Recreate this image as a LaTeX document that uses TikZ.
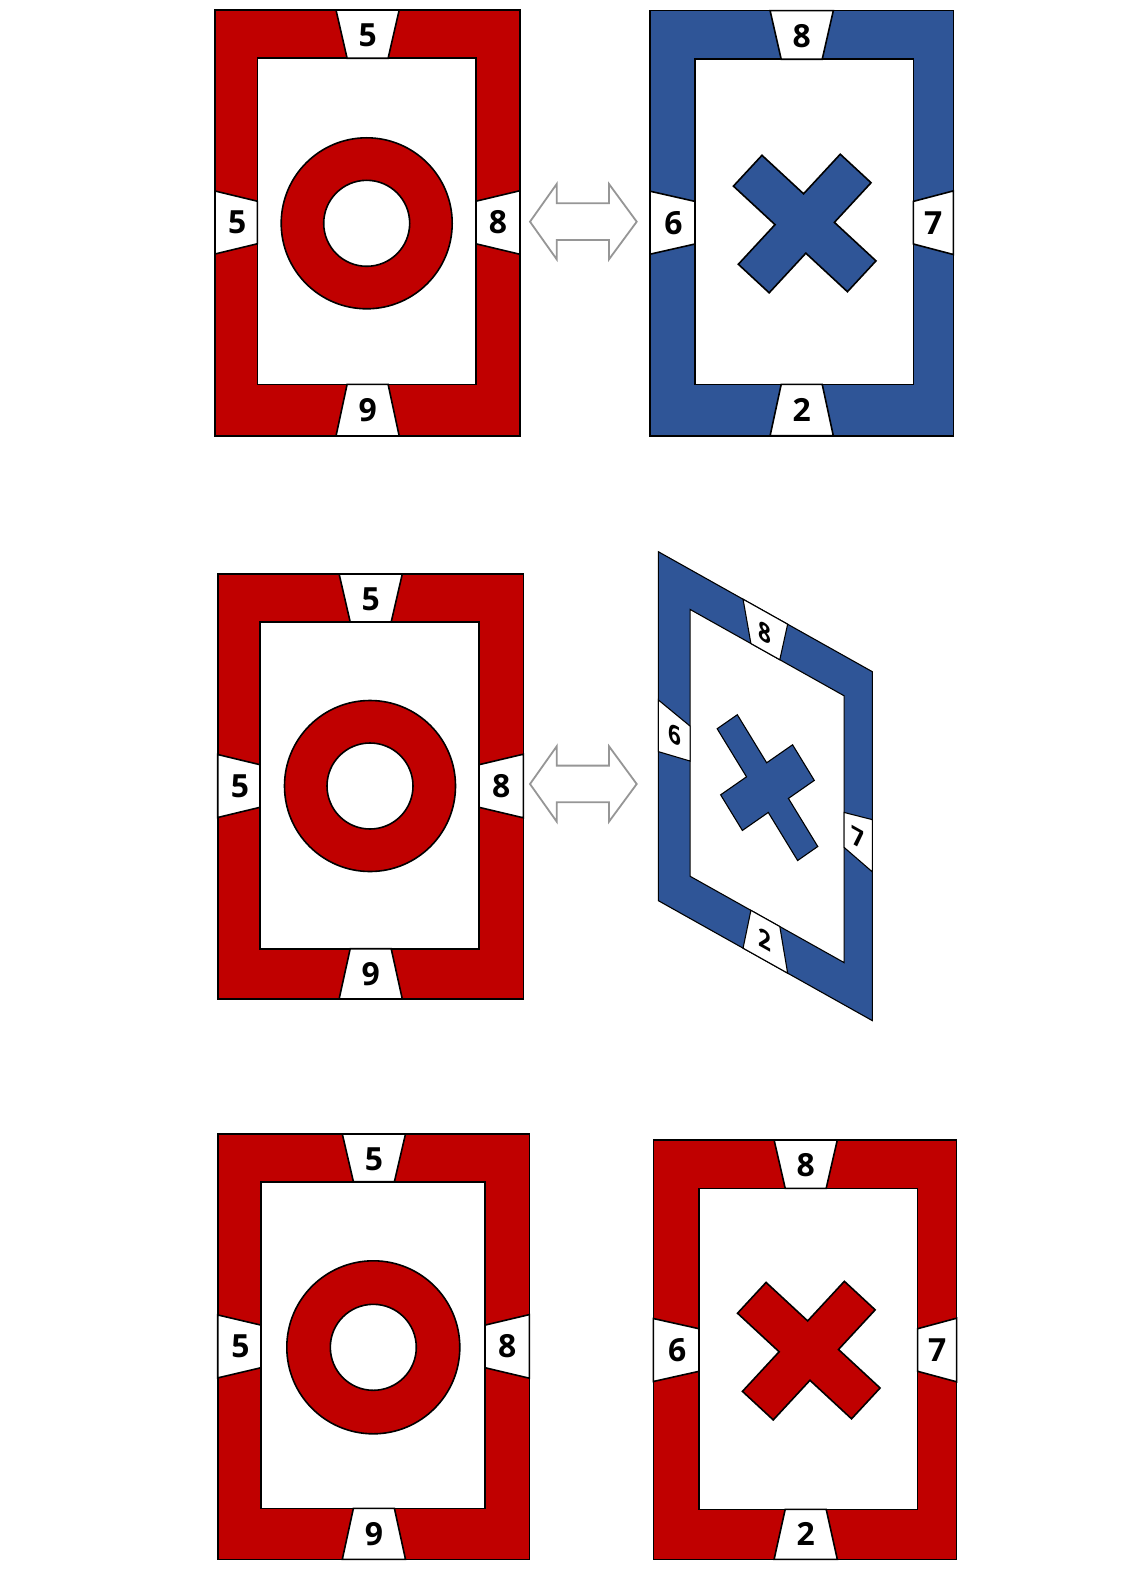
\documentclass[tikz,border=0pt]{standalone}
\usepackage{fontspec}
\setmainfont{Open Sans}
\definecolor{cred}{RGB}{192,0,0}
\definecolor{cblue}{RGB}{47,85,151}
\definecolor{agray}{RGB}{150,150,150}
\tikzset{
  cardline/.style={draw=black,line width=1.6bp,line join=miter},
  lbl/.style={font=\fontsize{32}{32}\selectfont\bfseries,inner sep=0pt,text=black},
  arrowshape/.style={draw=agray,line width=1.8bp,fill=white,line join=miter},
}
\newcommand\mycard[6]{%
  \filldraw[cardline,fill=#2] (0,0) rectangle (\cW,\cH);
  \filldraw[cardline,fill=white] (\cIL,\cIT) rectangle (\cIR,\cIB);
  \filldraw[cardline,fill=white] (\cTC-31.6,0) -- (\cTC+31.6,0) -- (\cTC+20.5,\cIT) -- (\cTC-20.5,\cIT) -- cycle;
  \filldraw[cardline,fill=white] (\cTC-31.6,\cH) -- (\cTC+31.6,\cH) -- (\cTC+20.5,\cIB) -- (\cTC-20.5,\cIB) -- cycle;
  \filldraw[cardline,fill=white] (0,\cS-31.5) -- (\cIL,\cS-21.3) -- (\cIL,\cS+21.3) -- (0,\cS+31.5) -- cycle;
  \filldraw[cardline,fill=white] (\cW,\cS-31.8) -- (\cIR,\cS-21.3) -- (\cIR,\cS+21.3) -- (\cW,\cS+31.8) -- cycle;
  \node[lbl] (#1t) at (\cTC,{\cIT/2+1}) {#3};
  \node[lbl] (#1l) at ({\cIL/2+1},\cS) {#4};
  \node[lbl] (#1r) at ({(\cIR+\cW)/2},\cS) {#5};
  \node[lbl] (#1b) at (\cTC,{(\cIB+\cH)/2}) {#6};
}
\newcommand\myring[2]{%
  \filldraw[cardline,fill=cred,even odd rule] (#1,#2) circle[radius=85.5bp] (#1,#2) circle[radius=43bp];
}
\newcommand\mycross[3]{%
  \filldraw[cardline,fill=#3,shift={(#1,#2)},rotate=-42.8]
    (77.7,-21) -- (77.7,21) -- (21,21) -- (21,75) -- (-21,75) -- (-21,21) --
    (-77.7,21) -- (-77.7,-21) -- (-21,-21) -- (-21,-75) -- (21,-75) -- (21,-21) -- cycle;
}
\newcommand\myarrow[1]{%
  \filldraw[arrowshape,shift={(0,#1)}]
    (530,0) -- (556.7,-37.7) -- (556.7,-18.4) -- (609,-18.4) -- (609,-37.7) --
    (636.7,0) -- (609,37.6) -- (609,18.3) -- (556.7,18.3) -- (556.7,37.6) -- cycle;
}
\begin{document}
\begin{tikzpicture}[x=1bp,y=-1bp]
\useasboundingbox (0,0) rectangle (1132,1581);
\fill[white] (0,0) rectangle (1132,1581);

% card 1: top left
\begin{scope}[shift={(215,10)}]
  \def\cW{305}\def\cH{426}\def\cIL{42.3}\def\cIT{48.3}\def\cIR{261}\def\cIB{374.3}\def\cTC{152.6}\def\cS{212.5}
  \mycard{a}{cred}{5}{5}{8}{9}
  \myring{151.7}{213.3}
\end{scope}

% card 2: top right
\begin{scope}[shift={(650,10.7)}]
  \def\cW{303.3}\def\cH{425}\def\cIL{45}\def\cIT{48.6}\def\cIR{263.3}\def\cIB{373.6}\def\cTC{151.7}\def\cS{212}
  \mycard{b}{cblue}{8}{6}{7}{2}
  \mycross{154.7}{212.8}{cblue}
\end{scope}

% card 3: middle left
\begin{scope}[shift={(217.7,574)}]
  \def\cW{305.6}\def\cH{425}\def\cIL{42.3}\def\cIT{48}\def\cIR{261.3}\def\cIB{374.7}\def\cTC{153}\def\cS{212}
  \mycard{c}{cred}{5}{5}{8}{9}
  \myring{152.3}{212}
\end{scope}

% card 4: skewed blue card
\begin{scope}[cm={0.7056,-0.3956,0,0.821,(658.3bp,-551.7bp)},
              every node/.append style={transform shape},
              cardline/.append style={line width=1.1bp}]
  \def\cW{303.3}\def\cH{425}\def\cIL{45}\def\cIT{48.6}\def\cIR{263.3}\def\cIB{373.6}\def\cTC{151.7}\def\cS{212}
  \mycard{d}{cblue}{8}{6}{7}{2}
  \mycross{154.7}{212.8}{cblue}
\end{scope}

% card 5: bottom left
\begin{scope}[shift={(217.7,1134)}]
  \def\cW{311.6}\def\cH{425.3}\def\cIL{43.3}\def\cIT{47.7}\def\cIR{267.3}\def\cIB{374.3}\def\cTC{156.2}\def\cS{212.4}
  \mycard{e}{cred}{5}{5}{8}{9}
  \filldraw[cardline,fill=cred,even odd rule] (155.6,213.3) circle[radius=86.5bp] (155.6,213.3) circle[radius=43bp];
\end{scope}

% card 6: bottom right
\begin{scope}[shift={(653.3,1140)}]
  \def\cW{303.3}\def\cH{419.3}\def\cIL{45.7}\def\cIT{48.3}\def\cIR{264.3}\def\cIB{369.3}\def\cTC{152.4}\def\cS{210}
  \mycard{f}{cred}{8}{6}{7}{2}
  \mycross{155.5}{210.6}{cred}
\end{scope}

% double arrows
\myarrow{221.7}
\myarrow{784}
\end{tikzpicture}
\end{document}
